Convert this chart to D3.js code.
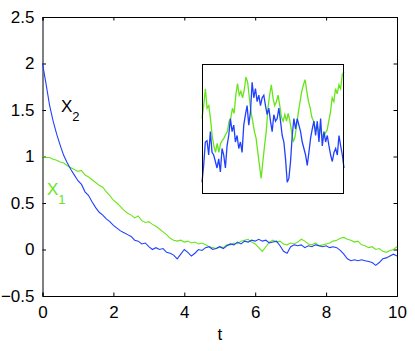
<!DOCTYPE html>
<html>
<script src="https://d3js.org/d3.v7.min.js"></script>
<style>
body {margin:0; background:#fff;}
text {font-family: "Liberation Sans", Arial, sans-serif; fill:#000;}
</style>
<body>
<svg width=415 height=351></svg>
<script>
    // main series, sampled every 0.1 in t
    const tValues = d3.range(0, 101).map(i => i / 10);
    const x1Values = [1.00,0.99,0.99,0.97,0.96,0.94,0.93,0.90,0.88,0.86,
        0.84,0.85,0.80,0.78,0.75,0.72,0.69,0.67,0.62,0.58,
        0.53,0.50,0.46,0.42,0.39,0.37,0.34,0.36,0.31,0.29,
        0.30,0.27,0.25,0.22,0.19,0.16,0.12,0.10,0.09,0.10,
        0.08,0.09,0.07,0.08,0.06,0.07,0.05,0.03,0.02,0.01,
        0.03,0.02,0.05,0.05,0.07,0.06,0.09,0.10,0.11,0.08,
        0.06,0.02,-0.02,0.03,0.08,0.10,0.08,0.09,0.06,0.05,
        0.07,0.06,0.08,0.11,0.09,0.06,0.05,0.07,0.04,0.05,
        0.06,0.07,0.09,0.10,0.12,0.13,0.11,0.10,0.08,0.09,
        0.05,0.04,0.02,0.03,0.00,0.01,-0.02,-0.03,-0.01,0.00,0.03];
    const x2Values = [2.00,1.78,1.55,1.38,1.24,1.12,1.01,0.93,0.86,0.80,
        0.74,0.70,0.62,0.58,0.51,0.45,0.40,0.37,0.33,0.30,
        0.26,0.23,0.20,0.18,0.16,0.14,0.10,0.09,0.06,0.07,
        0.03,0.00,0.02,0.00,0.01,-0.03,-0.04,-0.06,-0.10,-0.05,
        0.00,-0.03,-0.07,-0.04,0.00,-0.01,0.02,0.03,0.00,0.01,
        0.03,0.01,0.04,0.06,0.05,0.08,0.06,0.09,0.08,0.10,
        0.09,0.11,0.09,0.10,0.07,0.08,0.09,0.04,-0.02,-0.04,
        0.03,0.05,0.04,0.05,0.02,0.04,0.03,0.05,0.04,0.03,
        0.04,0.02,0.03,0.02,-0.01,-0.05,-0.10,-0.12,-0.11,-0.12,
        -0.11,-0.12,-0.13,-0.14,-0.17,-0.14,-0.10,-0.09,-0.07,-0.05,-0.07];

    // inset series (relative height in the box)
    const insetX1 = [0.58,0.68,0.81,0.66,0.68,0.58,0.45,0.37,0.32,0.39,0.32,0.39,0.41,0.43,0.46,0.48,
        0.56,0.58,0.66,0.62,0.76,0.85,0.76,0.79,0.74,0.80,0.90,0.86,0.74,0.63,0.56,0.48,0.43,0.32,
        0.22,0.12,0.25,0.37,0.48,0.66,0.76,0.84,0.74,0.68,0.71,0.76,0.68,0.59,0.56,0.61,0.56,0.62,
        0.56,0.48,0.40,0.44,0.53,0.63,0.71,0.79,0.84,0.88,0.79,0.71,0.66,0.59,0.56,0.50,0.53,0.48,
        0.50,0.45,0.44,0.47,0.49,0.56,0.63,0.74,0.71,0.81,0.77,0.84,0.81,0.92,0.94];
    const insetX2 = [0.09,0.22,0.40,0.41,0.30,0.48,0.32,0.30,0.25,0.20,0.27,0.17,0.35,0.30,0.20,0.37,
        0.45,0.58,0.48,0.53,0.40,0.45,0.35,0.40,0.32,0.53,0.61,0.68,0.53,0.63,0.86,0.74,0.81,0.71,
        0.76,0.68,0.74,0.76,0.68,0.61,0.66,0.56,0.48,0.61,0.56,0.58,0.66,0.56,0.45,0.40,0.27,0.09,
        0.12,0.25,0.45,0.58,0.50,0.58,0.53,0.48,0.40,0.35,0.30,0.22,0.32,0.43,0.50,0.56,0.45,0.56,
        0.40,0.58,0.37,0.48,0.40,0.45,0.37,0.30,0.25,0.32,0.35,0.30,0.45,0.37,0.30,0.20];

    const xTicks = [0, 2, 4, 6, 8, 10];
    const yTicks = [-0.5, 0, 0.5, 1, 1.5, 2, 2.5];
    const blue = "#2040ff", green = "#66e61a";

    const svg = d3.select("svg");
    const mLeft = 42.5, mRight = 397, mTop = 17, mBottom = 296;

    const x = d3.scaleLinear().domain([0, 10]).range([mLeft, mRight]);
    const y = d3.scaleLinear().domain([-0.5, 2.5]).range([mBottom, mTop]);

    const fmt = d => d < 0 ? "\u2212" + Math.abs(d) : String(d);

    // axes, ticks inside on all four sides
    svg.append("g").attr("transform", `translate(0,${mBottom})`)
        .call(d3.axisBottom(x).tickValues(xTicks).tickSize(-3.5).tickPadding(10).tickFormat(fmt));
    svg.append("g").attr("transform", `translate(0,${mTop})`)
        .call(d3.axisTop(x).tickValues(xTicks).tickSize(-3.5).tickFormat(""));
    svg.append("g").attr("transform", `translate(${mLeft},0)`)
        .call(d3.axisLeft(y).tickValues(yTicks).tickSize(-3.5).tickPadding(8).tickFormat(fmt));
    svg.append("g").attr("transform", `translate(${mRight},0)`)
        .call(d3.axisRight(y).tickValues(yTicks).tickSize(-3.5).tickFormat(""));
    svg.selectAll(".domain").attr("stroke", "#000");
    svg.selectAll(".tick line").attr("stroke", "#000");
    svg.selectAll(".tick text").style("font-size", "17px").attr("fill", "#000");

    const line = vals => d3.line().x((d, i) => x(tValues[i])).y(d => y(d))(vals);

    svg.append("path").attr("d", line(x1Values))
        .attr("fill", "none").attr("stroke", green).attr("stroke-width", 1.1);
    svg.append("path").attr("d", line(x2Values))
        .attr("fill", "none").attr("stroke", blue).attr("stroke-width", 1.1);

    // labels
    const lab1 = svg.append("text").attr("x", 47).attr("y", 195)
        .style("font-size", "17px").style("fill", green);
    lab1.append("tspan").text("X");
    lab1.append("tspan").attr("dy", 9).style("font-size", "13px").text("1");

    const lab2 = svg.append("text").attr("x", 61).attr("y", 112).style("font-size", "17px");
    lab2.append("tspan").text("X");
    lab2.append("tspan").attr("dy", 9).style("font-size", "13px").text("2");

    svg.append("text").attr("x", (mLeft + mRight) / 2).attr("y", 340)
        .attr("text-anchor", "middle").style("font-size", "17px").text("t");

    // inset
    const ix1 = d3.scaleLinear().domain([0, insetX1.length - 1]).range([202, 344]);
    const ix2 = d3.scaleLinear().domain([0, insetX2.length - 1]).range([202, 344]);
    const iy = d3.scaleLinear().domain([0, 1]).range([194, 64]);

    svg.append("rect").attr("x", 202).attr("y", 64).attr("width", 142).attr("height", 130)
        .attr("fill", "#fff").attr("stroke", "none");
    svg.append("path").attr("d", d3.line().x((d, i) => ix1(i)).y(d => iy(d))(insetX1))
        .attr("fill", "none").attr("stroke", green).attr("stroke-width", 1.3);
    svg.append("path").attr("d", d3.line().x((d, i) => ix2(i)).y(d => iy(d))(insetX2))
        .attr("fill", "none").attr("stroke", blue).attr("stroke-width", 1.3);
    svg.append("rect").attr("x", 202.5).attr("y", 64.5).attr("width", 141).attr("height", 129)
        .attr("fill", "none").attr("stroke", "#000");
</script>
</body>
</html>
